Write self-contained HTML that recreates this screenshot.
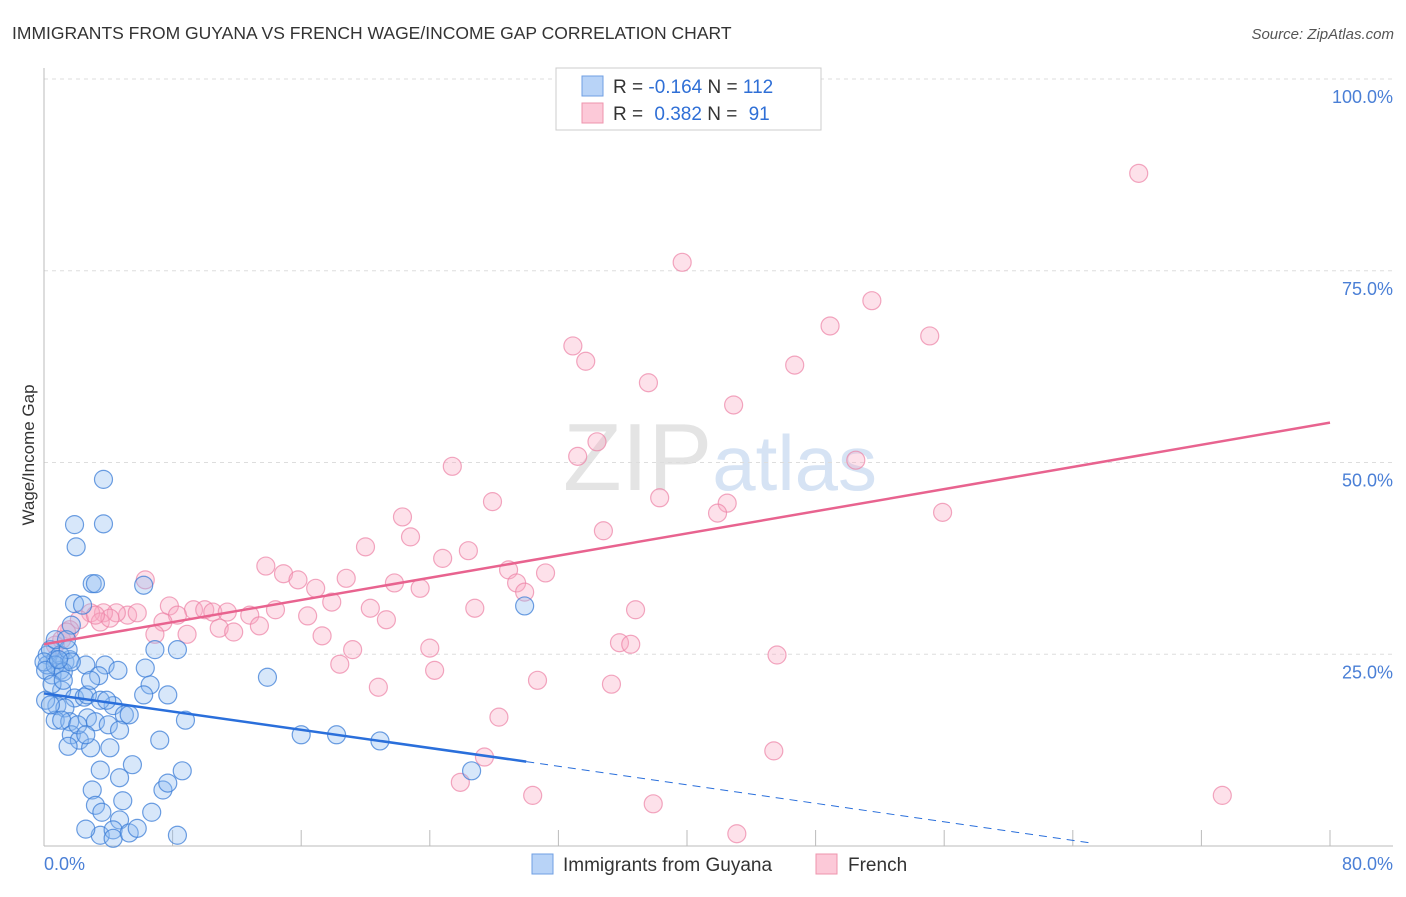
<!DOCTYPE html>
<html><head><meta charset="utf-8"><style>
body{margin:0;background:#fff;font-family:"Liberation Sans",sans-serif}
svg text{font-family:"Liberation Sans",sans-serif}
</style></head><body>
<svg id="chart" width="1406" height="892" viewBox="0 0 1406 892" xmlns="http://www.w3.org/2000/svg">
<text x="12" y="39" font-size="17.5" fill="#333">IMMIGRANTS FROM GUYANA VS FRENCH WAGE/INCOME GAP CORRELATION CHART</text>
<text x="1394" y="39" font-size="15" fill="#555" text-anchor="end" font-style="italic">Source: ZipAtlas.com</text>
<text x="720" y="490" font-size="96" text-anchor="middle" fill="#e4e4e4" font-family="Liberation Serif,serif">ZIP<tspan fill="#d6e3f4" font-family="Liberation Sans,sans-serif" font-size="78">atlas</tspan></text>
<g id="grid"></g>
<g id="axes"></g>
<g id="marks"></g>
<text transform="translate(34,455) rotate(-90)" font-size="17" fill="#333" text-anchor="middle">Wage/Income Gap</text>
<g>
<rect x="556" y="68" width="265" height="62" fill="#fff" stroke="#ccc"/>
<rect x="582" y="76" width="21" height="20" fill="#b8d3f7" stroke="#6f9fe3"/>
<rect x="582" y="103" width="21" height="20" fill="#fcc9d8" stroke="#ee94ad"/>
<text x="613" y="93" font-size="19" fill="#333">R = <tspan fill="#2f6fd6">-0.164</tspan>   N = <tspan fill="#2f6fd6">112</tspan></text>
<text x="613" y="120" font-size="19" fill="#333">R =  <tspan fill="#2f6fd6" dx="6">0.382</tspan>   N =  <tspan fill="#2f6fd6" dx="6">91</tspan></text>
</g>
<g>
<rect x="532" y="854" width="21" height="20" fill="#b8d3f7" stroke="#6f9fe3"/>
<text x="563" y="871" font-size="19" fill="#333">Immigrants from Guyana</text>
<rect x="816" y="854" width="21" height="20" fill="#fcc9d8" stroke="#ee94ad"/>
<text x="848" y="871" font-size="19" fill="#333">French</text>
</g>
</svg>
<script>
const blueX=[3.7,1.9,3.7,2.0,3.0,3.2,6.2,1.9,2.4,29.9,6.9,8.3,13.9,26.6,16.0,18.2,20.9,0.2,0.7,1.3,1.6,2.6,3.8,4.6,6.3,1.0,0.5,3.4,6.6,7.7,6.2,1.1,1.9,2.5,4.3,5.0,0.8,1.3,0.7,1.6,2.7,3.2,4.0,4.7,1.7,2.2,1.5,2.9,4.1,7.2,8.8,3.5,5.5,4.7,7.4,7.7,8.6,3.0,3.2,4.9,3.6,6.7,4.7,3.5,4.3,2.6,4.3,5.3,5.8,8.3,0.2,0.4,1.0,0,0.7,1.5,1.7,1.4,0.1,0.4,2.7,1.1,2.1,3.5,5.3,0.7,1.2,1.7,0.1,0.5,0.9,1.2,2.9,3.9,2.6];
const blueY=[47.8,41.9,42.0,39.0,34.2,34.2,34.0,31.6,31.4,31.3,25.6,25.6,22.0,9.8,14.5,14.5,13.7,24.9,24.3,24.0,24.3,23.6,23.6,22.9,23.2,22.9,22.3,22.2,21.0,19.7,19.7,20.3,19.3,19.4,18.3,17.1,18.3,18.0,16.4,16.2,16.7,16.2,15.8,15.1,14.5,13.8,13.0,12.8,12.8,13.8,16.4,9.9,10.6,8.9,7.3,8.2,9.8,7.3,5.3,5.9,4.4,4.4,3.4,1.4,2.1,2.2,1.0,1.7,2.3,1.4,23.6,25.6,24.9,24.0,26.9,25.6,28.8,26.9,19.0,18.4,19.7,16.4,15.8,19.0,17.1,23.6,22.7,24.0,22.9,21.1,24.3,21.6,21.6,19.0,14.5];
const pinkX=[68.1,39.7,51.5,48.9,55.1,32.9,33.7,46.7,37.6,42.9,34.4,33.2,50.5,25.4,38.3,27.9,42.5,41.9,55.9,22.3,34.8,22.8,20.0,26.4,24.8,13.8,31.2,28.9,14.9,15.8,6.3,29.4,16.9,18.8,21.8,23.4,29.9,17.9,7.8,9.3,10.0,10.5,11.4,26.8,20.3,36.8,12.8,14.4,16.4,5.2,4.5,3.7,2.9,5.8,8.3,7.4,21.3,10.9,11.8,13.4,6.9,8.9,17.3,24.0,35.8,36.5,19.2,18.4,24.3,30.7,20.8,35.3,45.6,28.3,27.4,25.9,30.4,37.9,43.1,73.3,45.4,2.2,1.6,1.1,0.7,1.4,3.5,4.1,3.2];
const pinkY=[87.7,76.1,71.1,67.8,66.5,65.2,63.2,62.7,60.4,57.5,52.7,50.8,50.3,49.5,45.4,44.9,44.7,43.4,43.5,42.9,41.1,40.3,39.0,38.5,37.5,36.5,35.6,36.0,35.5,34.7,34.7,34.3,33.6,34.9,34.3,33.6,33.1,31.8,31.3,30.8,30.8,30.5,30.5,31.0,31.0,30.8,30.1,30.8,30.0,30.1,30.4,30.4,30.4,30.4,30.1,29.2,29.5,28.4,27.9,28.7,27.6,27.6,27.4,25.8,26.5,26.3,25.6,23.7,22.9,21.6,20.7,21.1,24.9,16.8,11.6,8.3,6.6,5.5,1.6,6.6,12.4,29.5,28.2,26.9,26.2,27.9,29.2,29.7,30.1];
const yTicks=[25,50,75,100];
const yTickLabels=["25.0%","50.0%","75.0%","100.0%"];
const xTicks=[8,16,24,32,40,48,56,64,72,80];
const blueFit=[19.9,11.0,0.4]; // y at x=0, x=30, x=65.1
const blueFitX=[0,30,65.1];
const pinkFit=[26.3,55.2];
const pinkFitX=[0,80];

const NS="http://www.w3.org/2000/svg";
const sx=v=>44+v/80*1286;
const sy=v=>846-v/100*767;
function mk(t,a,p){const e=document.createElementNS(NS,t);for(const k in a)e.setAttribute(k,a[k]);p.appendChild(e);return e;}
const grid=document.getElementById('grid'),axes=document.getElementById('axes'),marks=document.getElementById('marks');
yTicks.forEach((t,i)=>{
 const l=mk('line',{x1:44,x2:1393,y1:sy(t),y2:sy(t),stroke:'#ddd','stroke-dasharray':'4,4'},grid);
 
 
 const tx=mk('text',{x:1393,y:sy(t)+24,'font-size':18,fill:'#4a7fd6','text-anchor':'end'},axes);
 tx.textContent=yTickLabels[i];
 
 
});
let a=mk('line',{x1:44,x2:44,y1:68,y2:846,stroke:'#bbb'},axes);


a=mk('line',{x1:44,x2:1393,y1:846,y2:846,stroke:'#bbb'},axes);


xTicks.forEach(t=>{const l=mk('line',{x1:sx(t),x2:sx(t),y1:830,y2:846,stroke:'#bbb'},axes);
 
 });
let xl=mk('text',{x:44,y:870,'font-size':18,fill:'#4a7fd6'},axes);xl.textContent='0.0%';


xl=mk('text',{x:1393,y:870,'font-size':18,fill:'#4a7fd6','text-anchor':'end'},axes);xl.textContent='80.0%';


pinkX.forEach((x,i)=>{const c=mk('circle',{cx:sx(x),cy:sy(pinkY[i]),r:9,fill:'rgba(248,170,195,0.35)',stroke:'rgba(236,130,165,0.7)','stroke-width':1.2},marks);
 
 });
blueX.forEach((x,i)=>{const c=mk('circle',{cx:sx(x),cy:sy(blueY[i]),r:9,fill:'rgba(140,185,240,0.35)',stroke:'rgba(60,125,215,0.75)','stroke-width':1.2},marks);
 
 });
let ln=mk('line',{x1:sx(blueFitX[0]),y1:sy(blueFit[0]),x2:sx(blueFitX[1]),y2:sy(blueFit[1]),stroke:'#2a6fdb','stroke-width':2.5},marks);


ln=mk('line',{x1:sx(blueFitX[1]),y1:sy(blueFit[1]),x2:sx(blueFitX[2]),y2:sy(blueFit[2]),stroke:'#2a6fdb','stroke-width':1,'stroke-dasharray':'8,6'},marks);


ln=mk('line',{x1:sx(pinkFitX[0]),y1:sy(pinkFit[0]),x2:sx(pinkFitX[1]),y2:sy(pinkFit[1]),stroke:'#e8638f','stroke-width':2.5},marks);


</script>
</body></html>
